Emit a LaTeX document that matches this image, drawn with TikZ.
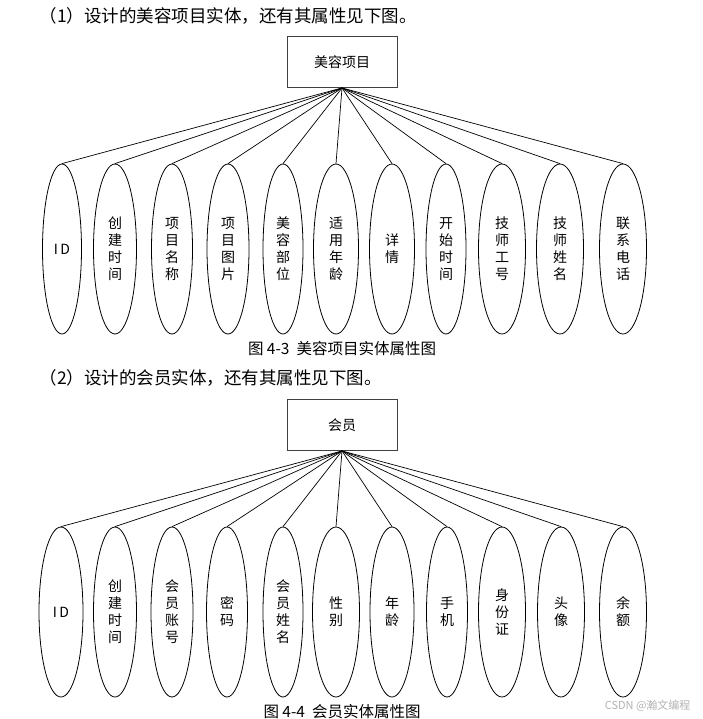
\documentclass[tikz,border=0pt]{standalone}
\usepackage{fontspec}
\setmainfont{Noto Sans CJK SC}
\usetikzlibrary{shapes.geometric}

\begin{document}
\begin{tikzpicture}[x=1pt, y=-1pt,
    entity/.style={rectangle, draw=black!75, line width=0.9pt, minimum width=110pt, minimum height=51pt, font=\fontsize{14}{16}\selectfont},
    attr/.style={ellipse, draw, line width=0.8pt, inner sep=0pt, minimum height=170pt, align=center, font=\fontsize{14}{17}\selectfont},
    conn/.style={black, line width=0.7pt},
    title/.style={anchor=west, font=\fontsize{17.5}{19}\selectfont},
    caption/.style={font=\fontsize{15.5}{17}\selectfont}]
    \useasboundingbox (0,0) rectangle (702,719);

    % first entity
    \node[title] (T1) at (36,16) {（1）设计的美容项目实体，还有其属性见下图。};
    \node[entity] (E) at (342,62) {美容项目};
    \node[attr, minimum width=39pt] (A1) at (62,249) {I\,D};
    \node[attr, minimum width=43pt] (A2) at (115,249) {创\\建\\时\\间};
    \node[attr, minimum width=41pt] (A3) at (172,249) {项\\目\\名\\称};
    \node[attr, minimum width=42pt] (A4) at (228,249) {项\\目\\图\\片};
    \node[attr, minimum width=40pt] (A5) at (283,249) {美\\容\\部\\位};
    \node[attr, minimum width=45pt] (A6) at (336,249) {适\\用\\年\\龄};
    \node[attr, minimum width=45pt] (A7) at (392,249) {详\\情};
    \node[attr, minimum width=40pt] (A8) at (446,249) {开\\始\\时\\间};
    \node[attr, minimum width=47pt] (A9) at (502,249) {技\\师\\工\\号};
    \node[attr, minimum width=47pt] (A10) at (560,249) {技\\师\\姓\\名};
    \node[attr, minimum width=47pt] (A11) at (623,249) {联\\系\\电\\话};
    \draw[conn] (E.south) -- (A1.north);
    \draw[conn] (E.south) -- (A2.north);
    \draw[conn] (E.south) -- (A3.north);
    \draw[conn] (E.south) -- (A4.north);
    \draw[conn] (E.south) -- (A5.north);
    \draw[conn] (E.south) -- (A6.north);
    \draw[conn] (E.south) -- (A7.north);
    \draw[conn] (E.south) -- (A8.north);
    \draw[conn] (E.south) -- (A9.north);
    \draw[conn] (E.south) -- (A10.north);
    \draw[conn] (E.south) -- (A11.north);
    \node[caption] (C1) at (342,349) {图 4-3\ \ 美容项目实体属性图};

    % second entity
    \node[title] (T2) at (36,378) {（2）设计的会员实体，还有其属性见下图。};
    \node[entity] (M) at (342,425) {会员};
    \node[attr, minimum width=44pt] (B1) at (61,612) {I\,D};
    \node[attr, minimum width=43pt] (B2) at (115,612) {创\\建\\时\\间};
    \node[attr, minimum width=42pt] (B3) at (172,612) {会\\员\\账\\号};
    \node[attr, minimum width=41pt] (B4) at (227,612) {密\\码};
    \node[attr, minimum width=40pt] (B5) at (283,612) {会\\员\\姓\\名};
    \node[attr, minimum width=47pt] (B6) at (336,612) {性\\别};
    \node[attr, minimum width=44pt] (B7) at (392,612) {年\\龄};
    \node[attr, minimum width=41pt] (B8) at (447,612) {手\\机};
    \node[attr, minimum width=47pt] (B9) at (502,612) {身\\份\\证};
    \node[attr, minimum width=47pt] (B10) at (561,612) {头\\像};
    \node[attr, minimum width=47pt] (B11) at (623,612) {余\\额};
    \draw[conn] (M.south) -- (B1.north);
    \draw[conn] (M.south) -- (B2.north);
    \draw[conn] (M.south) -- (B3.north);
    \draw[conn] (M.south) -- (B4.north);
    \draw[conn] (M.south) -- (B5.north);
    \draw[conn] (M.south) -- (B6.north);
    \draw[conn] (M.south) -- (B7.north);
    \draw[conn] (M.south) -- (B8.north);
    \draw[conn] (M.south) -- (B9.north);
    \draw[conn] (M.south) -- (B10.north);
    \draw[conn] (M.south) -- (B11.north);
    \node[caption] (C2) at (342,712) {图 4-4\ \ 会员实体属性图};
    \node[anchor=east, text=black!30, font=\fontsize{11}{12}\selectfont] (W) at (694,706) {CSDN @瀚文编程};
\end{tikzpicture}
\end{document}
